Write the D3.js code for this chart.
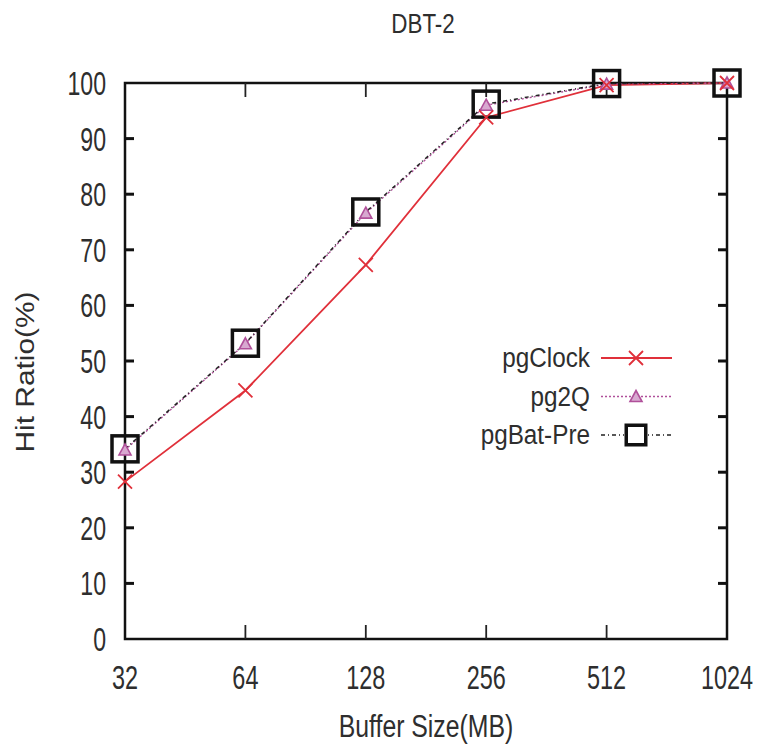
<!DOCTYPE html>
<html>
<head>
<meta charset="utf-8">
<script src="https://cdn.jsdelivr.net/npm/d3@7"></script>
<style>
  body { margin: 0; background: #fff; }
  text { font-family: "Liberation Sans", Arial, sans-serif; fill: #2e2e2e; }
</style>
</head>
<body>
<div id="chart"></div>
<script>
const sizes = [32, 64, 128, 256, 512, 1024];
const pgClock = [28.3, 44.7, 67.3, 93.8, 99.6, 100];
const pg2Q = [34.0, 53.1, 76.6, 96.0, 99.8, 100];
const pgBatPre = [34.2, 53.2, 76.8, 96.2, 99.9, 100];
const yTicks = [0, 10, 20, 30, 40, 50, 60, 70, 80, 90, 100];

const W = 760, H = 746;
const margin = { top: 83, right: 33, bottom: 107, left: 125 };
const width = W - margin.left - margin.right;
const height = H - margin.top - margin.bottom;

const svg = d3.select("#chart").append("svg")
    .attr("width", W)
    .attr("height", H);
const g = svg.append("g").attr("transform", `translate(${margin.left},${margin.top})`);

const x = d3.scaleLog().base(2).domain([32, 1024]).range([0, width]);
const y = d3.scaleLinear().domain([0, 100]).range([height, 0]);

// text squeezed sideways, the original figure is stretched vertically
function label(parent, lx, ly, txt, fs, sx, anchor, dy) {
    return parent.append("text")
        .attr("transform", `translate(${lx},${ly}) scale(${sx},1)`)
        .attr("text-anchor", anchor)
        .attr("dy", dy || 0)
        .style("font-size", fs + "px")
        .text(txt);
}

// frame
g.append("rect")
    .attr("width", width).attr("height", height)
    .attr("fill", "none").attr("stroke", "#111").attr("stroke-width", 2.5);

// inward ticks, mirrored
g.selectAll(".ytl").data(yTicks.slice(1, -1)).enter().append("line")
    .attr("x1", 0).attr("x2", 9).attr("y1", d => y(d)).attr("y2", d => y(d))
    .attr("stroke", "#111").attr("stroke-width", 3);
g.selectAll(".ytr").data(yTicks.slice(1, -1)).enter().append("line")
    .attr("x1", width).attr("x2", width - 9).attr("y1", d => y(d)).attr("y2", d => y(d))
    .attr("stroke", "#111").attr("stroke-width", 3);
g.selectAll(".xtb").data(sizes.slice(1, -1)).enter().append("line")
    .attr("x1", d => x(d)).attr("x2", d => x(d)).attr("y1", height).attr("y2", height - 14)
    .attr("stroke", "#222").attr("stroke-width", 1.8);
g.selectAll(".xtt").data(sizes.slice(1, -1)).enter().append("line")
    .attr("x1", d => x(d)).attr("x2", d => x(d)).attr("y1", 0).attr("y2", 14)
    .attr("stroke", "#222").attr("stroke-width", 1.8);

// tick labels
yTicks.forEach(d => label(g, -19, y(d), d, 34, 0.68, "end", "0.35em"));
sizes.forEach(d => label(g, x(d), height + 50, d, 34, 0.69, "middle"));

// titles
label(svg, 423, 33, "DBT-2", 28, 0.8, "middle");
label(svg, 426, 737, "Buffer Size(MB)", 31, 0.8, "middle");
svg.append("text")
    .attr("transform", "translate(34,372) rotate(-90) scale(1.15,1)")
    .attr("text-anchor", "middle")
    .style("font-size", "26px")
    .text("Hit Ratio(%)");

const line = d3.line().x((d, i) => x(sizes[i])).y(d => y(d));

const series = [
    { name: "pgClock", values: pgClock, color: "#e0303a", dash: null, width: 1.8 },
    { name: "pg2Q", values: pg2Q, color: "#b0509a", dash: "2,2", width: 1.4 },
    { name: "pgBat-Pre", values: pgBatPre, color: "#222", dash: "4,3,1,3", width: 1.5 }
];

function drawMarker(sel, s, k) {
    if (s.name === "pgClock") {
        sel.append("path").attr("d", "M-7,-7L7,7M-7,7L7,-7")
            .attr("stroke", s.color).attr("stroke-width", 1.8).attr("fill", "none");
    } else if (s.name === "pg2Q") {
        sel.append("path").attr("d", "M0,-6L6,5L-6,5Z")
            .attr("stroke", s.color).attr("stroke-width", 1.6).attr("fill", "#d8a8d0");
    } else {
        sel.append("rect").attr("x", -13 * k).attr("y", -13 * k)
            .attr("width", 26 * k).attr("height", 26 * k)
            .attr("stroke", "#111").attr("stroke-width", 3.5).attr("fill", "none");
    }
}

series.forEach(s => {
    g.append("path").datum(s.values)
        .attr("d", line).attr("fill", "none")
        .attr("stroke", s.color).attr("stroke-width", s.width)
        .attr("stroke-dasharray", s.dash);
});
// markers drawn squares first, then triangle and x on top
[series[2], series[1], series[0]].forEach(s => {
    g.selectAll(null).data(s.values).enter().append("g")
        .attr("transform", (d, i) => `translate(${x(sizes[i])},${y(d)})`)
        .each(function () { drawMarker(d3.select(this), s, 1); });
});

// legend
const legend = svg.append("g");
series.forEach((s, i) => {
    const ly = 358 + i * 38.5;
    label(legend, 590, ly, s.name, 27, 0.9, "end", "0.35em");
    legend.append("line").attr("x1", 601).attr("x2", 672).attr("y1", ly).attr("y2", ly)
        .attr("stroke", s.color).attr("stroke-width", s.width).attr("stroke-dasharray", s.dash);
    const m = legend.append("g").attr("transform", `translate(636,${ly})`);
    if (s.name === "pgBat-Pre") {
        m.append("rect").attr("x", -12).attr("y", -12).attr("width", 24).attr("height", 24)
            .attr("fill", "#fff").attr("stroke", "none");
    }
    drawMarker(m, s, 0.75);
});
</script>
</body>
</html>
